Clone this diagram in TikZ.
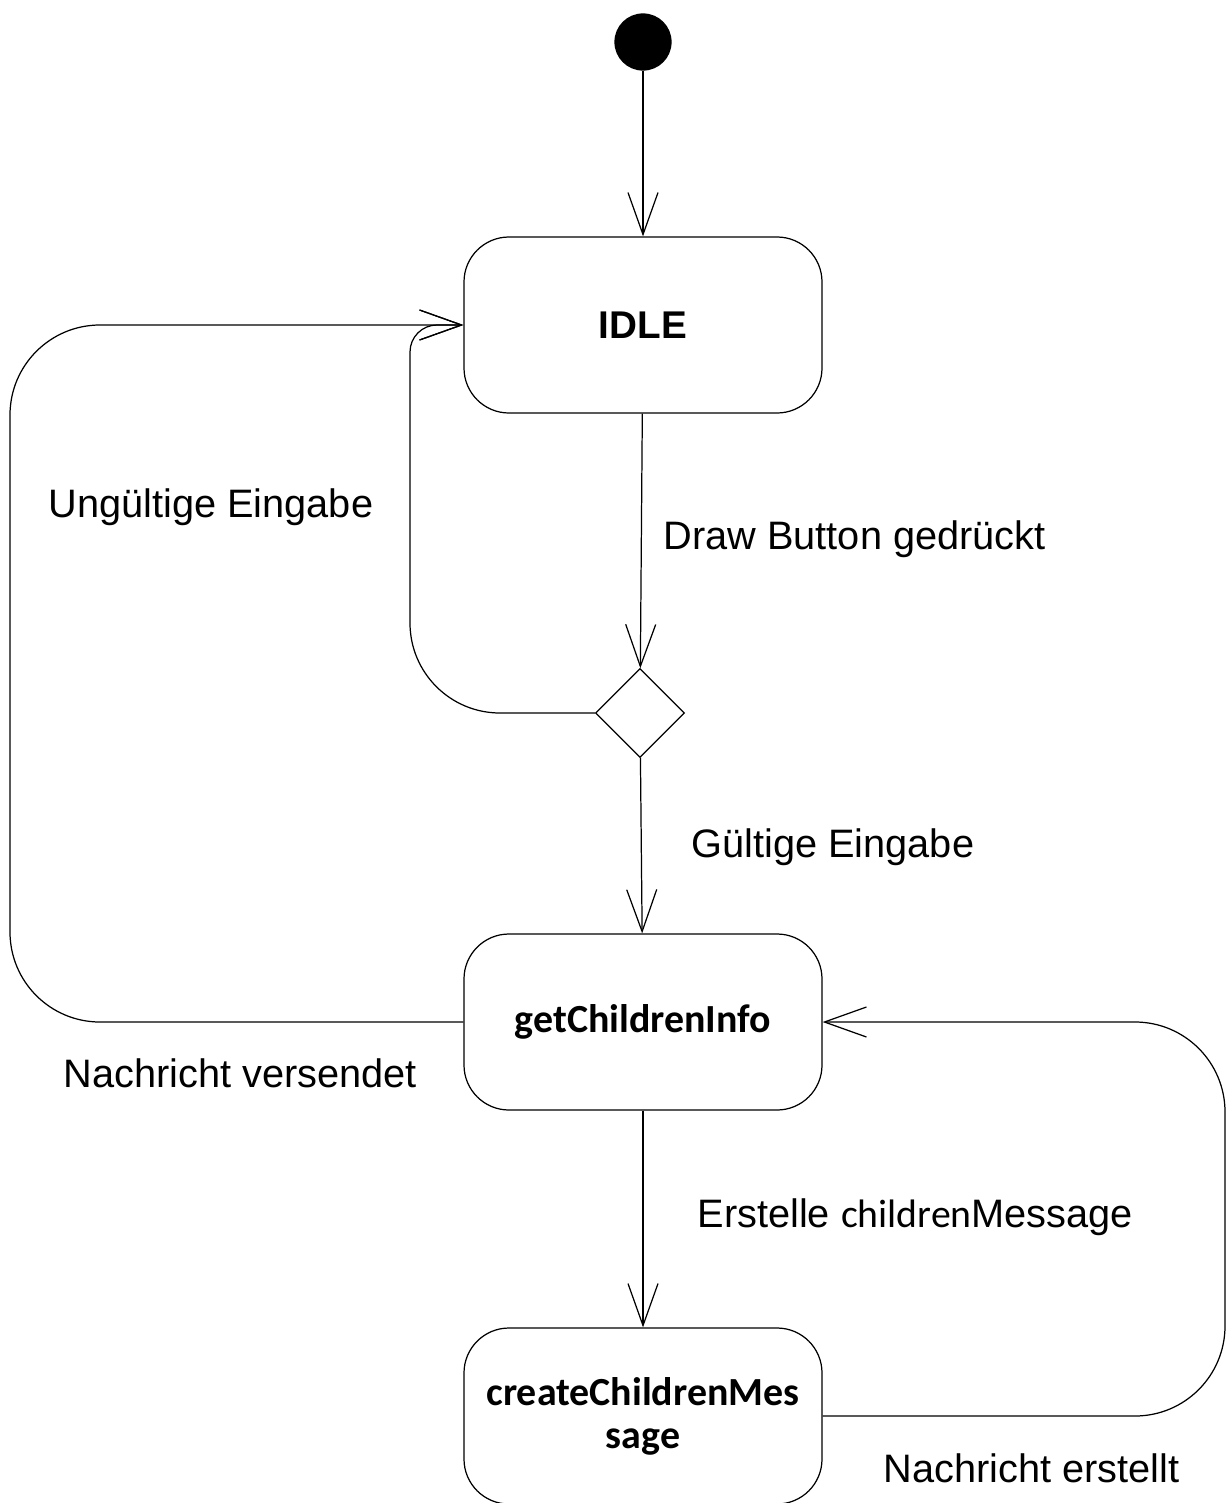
\documentclass[tikz,border=0pt]{standalone}
\usepackage{fontspec}
\setmainfont{Liberation Sans}
\newfontfamily\calibri{Carlito}
\tikzset{->/.style = {-{Straight Barb[length=8.4mm,width=6mm]}}}
\tikzset{statebox/.style = {draw, rounded corners=9mm, minimum width=71.6mm, minimum height=35.2mm,
                            align=center, font=\fontsize{22.7}{24.5}\selectfont\calibri\bfseries},
         decision/.style = {draw, diamond, minimum width=17.8mm, minimum height=17.8mm, inner sep=0pt},
         translabel/.style = {anchor=base west, inner sep=0pt}}
\usetikzlibrary{arrows.meta,
                 shapes.geometric}

\begin{document}
\begin{tikzpicture}[x=.2mm, y=.2mm, line width=.7pt, font=\fontsize{22.6}{27}\selectfont]
\useasboundingbox (0,0) rectangle (1228,-1503);
\node [draw, circle, fill, minimum size=11.2mm, inner sep=0pt] (start) at (643,-42) {};
\node [statebox, font=\fontsize{22}{27}\selectfont\bfseries] (idle) at (643,-325) {IDLE};
\node [decision] (choice) at (640,-713) {};
\node [statebox] (info) at (643,-1022) {getChildrenInfo};
\node [statebox] (msg) at (643,-1416) {createChildrenMes\\sage};
\draw [->] (start) -- (idle);
\draw [->] (idle) -- (choice);
\draw [->] (choice) -- (info);
\draw [->] (info) -- (msg);
\draw [->] (choice.west) -- (500,-713) arc [start angle=270, end angle=180, radius=90]
      -- (410,-352) arc [start angle=180, end angle=90, radius=27] -- (idle.west);
\draw [->] (info.west) -- (100,-1022) arc [start angle=270, end angle=180, radius=90]
      -- (10,-415) arc [start angle=180, end angle=90, radius=90] -- (idle.west);
\draw [->] (msg.east) -- (1135,-1416) arc [start angle=-90, end angle=0, radius=90]
      -- (1225,-1112) arc [start angle=0, end angle=90, radius=90] -- (info.east);
\node [translabel] (invalid) at (48,-517) {Ungültige Eingabe};
\node [translabel] (pressed) at (663,-549) {Draw Button gedrückt};
\node [translabel] (valid) at (691,-857) {Gültige Eingabe};
\node [translabel] (sent) at (63,-1087) {Nachricht versendet};
\node [translabel] (create) at (697,-1227) {Erstelle {\calibri children}Message};
\node [translabel] (created) at (883,-1482) {Nachricht erstellt};
\end{tikzpicture}
\end{document}
